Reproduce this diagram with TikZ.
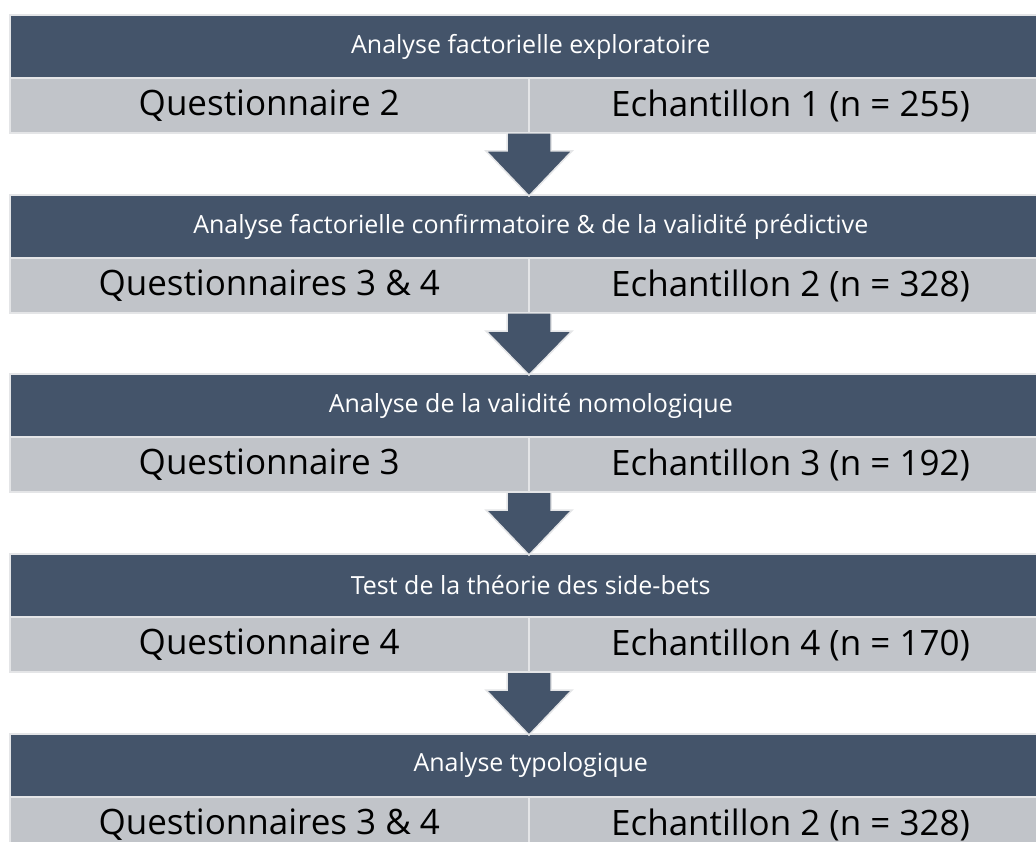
\documentclass[tikz,border=0pt]{standalone}
\usepackage{fontspec}
\setmainfont{Open Sans}
\usetikzlibrary{calc}
\definecolor{hdr}{HTML}{44546A}
\definecolor{rowc}{HTML}{C1C4C9}
\definecolor{bord}{HTML}{E4E5E7}
\tikzset{
  cellbase/.style={draw=bord, line width=2pt, inner sep=0pt, outer sep=0pt},
  hdrbox/.style={cellbase, fill=hdr, text=white, minimum width=1042.5pt, minimum height=63pt,
    anchor=north west, font=\fontsize{25}{30}\selectfont},
  rowbox/.style={cellbase, fill=rowc, text=black, minimum height=55pt,
    font=\fontsize{35}{42}\selectfont},
  leftcell/.style={rowbox, minimum width=519.5pt, anchor=north west},
  rightcell/.style={rowbox, minimum width=523pt, anchor=north west},
  flowarrow/.style={fill=hdr, draw=bord, line width=1.5pt, line join=miter}
}
\begin{document}
\begin{tikzpicture}[x=1pt,y=-1pt]
\useasboundingbox (0,0) rectangle (1036,842);
\fill[white] (0,0) rectangle (1036,842);
\clip (0,0) rectangle (1036,842);
\foreach \i/\t/\hd/\ql/\er in {
  1/15/{Analyse factorielle exploratoire}/{Questionnaire 2}/{Echantillon 1 (n = 255)},
  2/195/{Analyse factorielle confirmatoire \& de la validité prédictive}/{Questionnaires 3 \& 4}/{Echantillon 2 (n = 328)},
  3/374/{Analyse de la validité nomologique}/{Questionnaire 3}/{Echantillon 3 (n = 192)},
  4/554/{Test de la théorie des side-bets}/{Questionnaire 4}/{Echantillon 4 (n = 170)},
  5/734/{Analyse typologique}/{Questionnaires 3 \& 4}/{Echantillon 2 (n = 328)}}{
  \node[hdrbox] (h\i) at (9.5,\t) {\hd};
  \node[leftcell] (q\i) at (h\i.south west) {\ql};
  \node[rightcell] (e\i) at (q\i.north east) {\er};
}
\foreach \i/\j in {1/2,2/3,3/4,4/5}{
  \draw[flowarrow] ($(q\i.south east)+(-22,0)$) -- ++(0,18) -- ++(-21,0)
    -- ($(h\j.north west -| q\i.south east)+(0,1)$)
    -- ($(q\i.south east)+(43,18)$) -- ++(-21,0) -- ($(q\i.south east)+(22,0)$) -- cycle;
}
\end{tikzpicture}
\end{document}
